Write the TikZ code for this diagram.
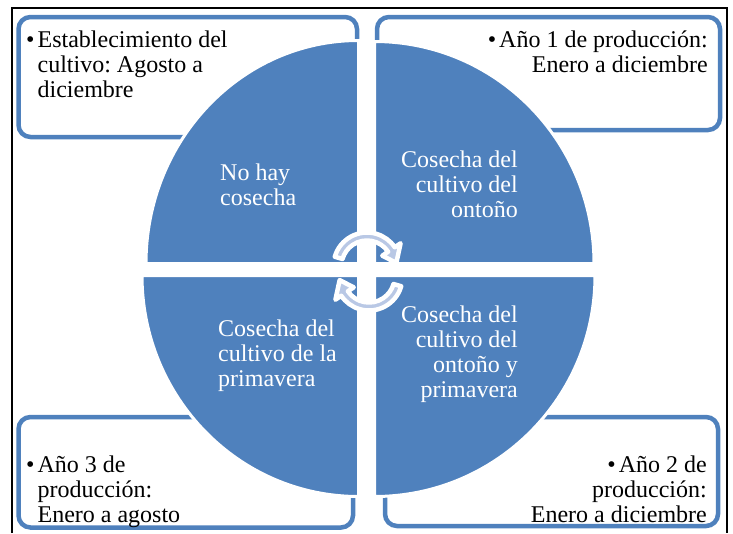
\documentclass[tikz,border=0pt]{standalone}
\usepackage{fontspec}
\setmainfont{Liberation Serif}
\usepackage{xcolor}
\usepackage{tikz}
\definecolor{quadBlue}{HTML}{4F81BD}
\definecolor{arrowFill}{HTML}{B9C8E5}
\newcommand{\diagfont}{\fontsize{24}{25}\selectfont}
\frenchspacing
\tikzset{
  boxLine/.style={draw=quadBlue, line width=4.5pt, rounded corners=12pt, fill=white},
  quadFill/.style={fill=quadBlue, draw=white, line width=3pt},
  boxText/.style={text=black, font=\diagfont, inner sep=0pt},
  quadText/.style={text=white, font=\diagfont, inner sep=0pt},
  cycArrow/.style={fill=arrowFill, draw=white, line width=4.5pt, line join=round}
}

\begin{document}
\begin{tikzpicture}[x=1pt,y=-1pt]
\useasboundingbox (0,0) rectangle (733,533);
% frame
\draw[line width=1.6pt] (12,533) -- (12,8) -- (727,8) -- (727,533);

% corner boxes
\draw[boxLine] (18.5,17) rectangle (357,137);
\draw[boxLine] (377,17) rectangle (720,130);
\draw[boxLine] (18.5,417) rectangle (353,527.5);
\draw[boxLine] (385,417) rectangle (718,526);
\node[boxText, anchor=base west] (estab) at (26,47) {\begin{tabular}[t]{@{}l@{\hspace{3pt}}l@{}}\textbullet & Establecimiento del\\ & cultivo: Agosto a\\ & diciembre\end{tabular}};
\node[boxText, anchor=base east] (anio1) at (708,47) {\begin{tabular}[t]{@{}r@{}}\textbullet\hspace{3pt}Año 1 de producción:\\ Enero a diciembre\end{tabular}};
\node[boxText, anchor=base west] (anio3) at (26,472) {\begin{tabular}[t]{@{}l@{\hspace{3pt}}l@{}}\textbullet & Año 3 de\\ & producción:\\ & Enero a agosto\end{tabular}};
\node[boxText, anchor=base east] (anio2) at (707,472) {\begin{tabular}[t]{@{}r@{}}\textbullet\hspace{3pt}Año 2 de\\ producción:\\ Enero a diciembre\end{tabular}};

% quadrants
\draw[quadFill] (358.5,263.5) -- ++(-212.5,0) arc (180:270:212.5 and 223) -- cycle;
\draw[quadFill] (374.5,263.5) -- ++(0,-222) arc (270:360:219.5 and 222) -- cycle;
\draw[quadFill] (374.5,275.5) -- ++(220.5,0) arc (0:90:220.5 and 221) -- cycle;
\draw[quadFill] (358.5,275.5) -- ++(0,221) arc (90:180:216.5 and 221) -- cycle;
\node[quadText, anchor=base west] (nohay) at (220,180) {\begin{tabular}[t]{@{}l@{}}No hay\\ cosecha\end{tabular}};
\node[quadText, anchor=base east] (otono) at (518,167) {\begin{tabular}[t]{@{}r@{}}Cosecha del\\ cultivo del\\ ontoño\end{tabular}};
\node[quadText, anchor=base west] (primav) at (218,336) {\begin{tabular}[t]{@{}l@{}}Cosecha del\\ cultivo de la\\ primavera\end{tabular}};
\node[quadText, anchor=base east] (otoprim) at (518,322) {\begin{tabular}[t]{@{}r@{}}Cosecha del\\ cultivo del\\ ontoño y\\ primavera\end{tabular}};

% cycle arrows
\begin{scope}[shift={(367,266)}]
\draw[cycArrow] (196:33.5) arc (196:326:33.5) -- (326:40.5) -- (354:29.5) -- (326:18.5) -- (326:25.5) arc (326:196:25.5) -- cycle;
\end{scope}
\begin{scope}[shift={(369,277)}]
\draw[cycArrow] (16:33.5) arc (16:146:33.5) -- (146:40.5) -- (174:29.5) -- (146:18.5) -- (146:25.5) arc (146:16:25.5) -- cycle;
\end{scope}
\end{tikzpicture}
\end{document}
